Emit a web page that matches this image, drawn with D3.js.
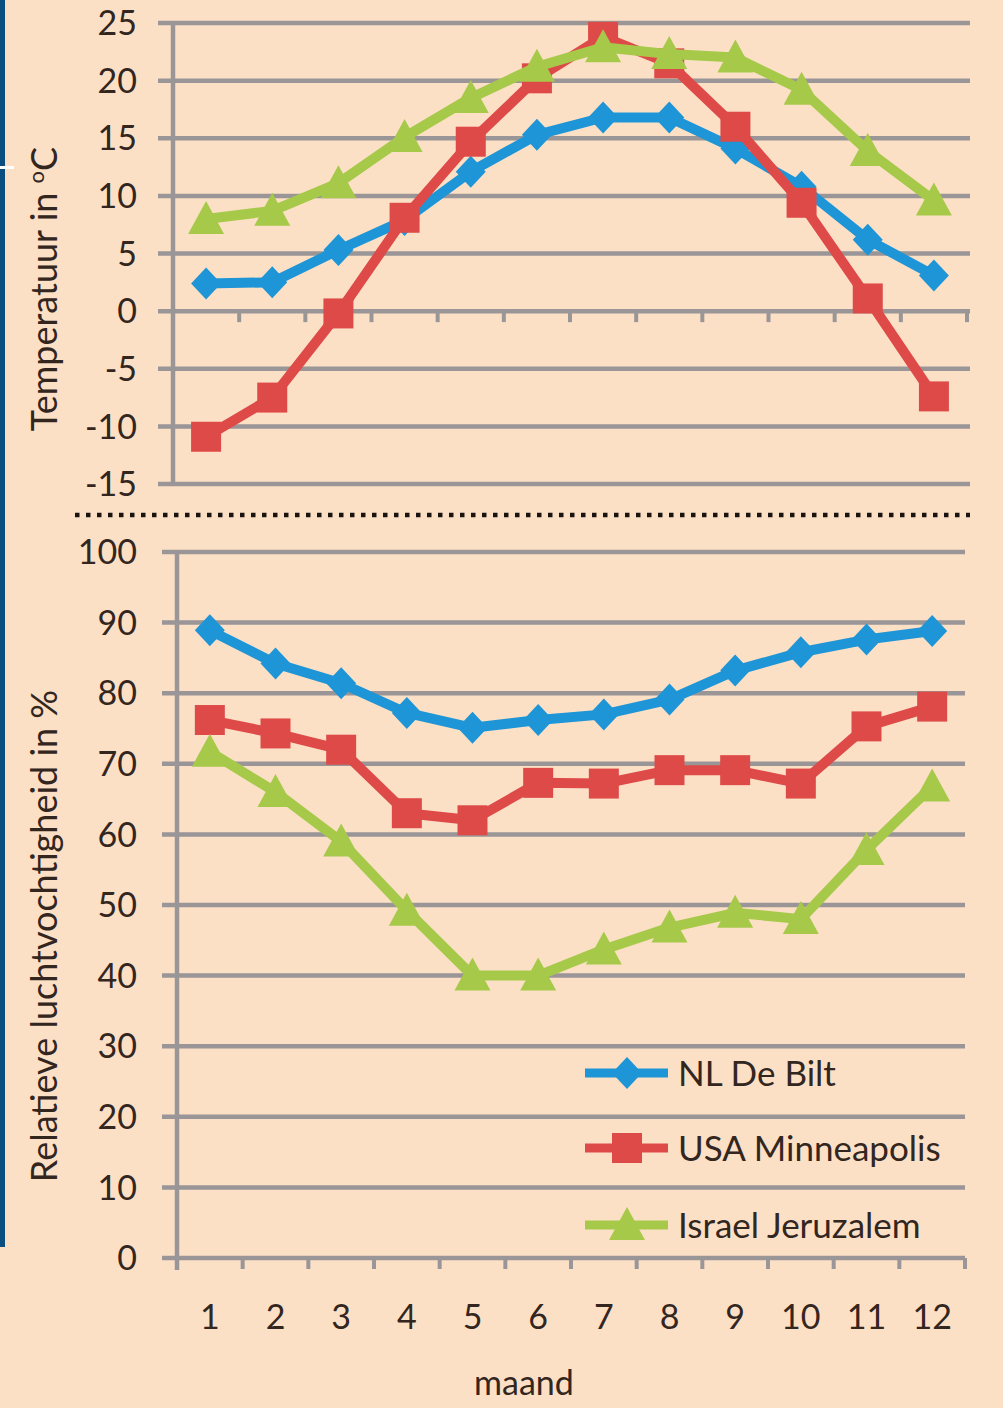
<!DOCTYPE html>
<html>
<head>
<meta charset="utf-8">
<script src="https://cdn.jsdelivr.net/npm/d3@7"></script>
<style>
  body { margin: 0; background: #fce0c6; }
  svg { display: block; }
  text { font-family: Lato, "Open Sans", sans-serif; fill: #33261e; }
</style>
</head>
<body>
<svg id="chart" width="1003" height="1408"></svg>
<script>
"use strict";

// maanden
var months = [1, 2, 3, 4, 5, 6, 7, 8, 9, 10, 11, 12];

// temperatuur in graden C
var tempDeBilt      = [2.4, 2.5, 5.3, 7.9, 12.1, 15.3, 16.8, 16.8, 14.1, 10.8, 6.2, 3.1];
var tempMinneapolis = [-10.9, -7.5, -0.2, 8.1, 14.7, 20.2, 23.8, 21.5, 16.0, 9.4, 1.1, -7.4];
var tempJeruzalem   = [8.0, 8.7, 11.1, 15.1, 18.5, 21.2, 22.9, 22.3, 22.0, 19.2, 13.9, 9.6];

// relatieve luchtvochtigheid in %
var rvDeBilt      = [88.9, 84.2, 81.4, 77.2, 75.1, 76.2, 77.0, 79.1, 83.2, 85.8, 87.6, 88.8];
var rvMinneapolis = [76.2, 74.3, 72.0, 63.0, 62.0, 67.3, 67.2, 69.1, 69.1, 67.2, 75.3, 78.1];
var rvJeruzalem   = [71.7, 66.0, 59.0, 49.2, 40.0, 40.0, 43.7, 46.8, 48.9, 48.0, 57.8, 66.8];

var tempTicks = [-15, -10, -5, 0, 5, 10, 15, 20, 25];
var rvTicks = [0, 10, 20, 30, 40, 50, 60, 70, 80, 90, 100];

var seriesNames = ["NL De Bilt", "USA Minneapolis", "Israel Jeruzalem"];
var seriesColors = ["#1e95d6", "#de4a48", "#a6c94a"];
var seriesMarkers = ["diamond", "square", "triangle"];

var gridColor = "#9a9697";
var svg = d3.select("#chart");

// linkse rand
svg.append("rect").attr("x", 0).attr("y", 0).attr("width", 5).attr("height", 1247)
  .attr("fill", "#0b4f80");
svg.append("rect").attr("x", 0).attr("y", 166).attr("width", 14).attr("height", 3)
  .attr("fill", "#ffffff");

function markerPath(kind) {
  if (kind == "diamond") return "M0,-16L15,0L0,16L-15,0Z";
  if (kind == "square") return "M-15,-15H15V15H-15Z";
  return "M0,-18L18,15L-18,15Z";
}

function panel(cfg) {
  var x = d3.scaleBand().domain(months).range([cfg.left, cfg.right]);
  var y = d3.scaleLinear().domain(cfg.domain).range([cfg.bottom, cfg.top]);
  var g = svg.append("g");

  // rasterlijnen
  g.selectAll("line.grid")
    .data(cfg.ticks)
    .join("line")
    .attr("x1", cfg.left - 15)
    .attr("x2", cfg.gridRight)
    .attr("y1", d => y(d))
    .attr("y2", d => y(d))
    .attr("stroke", gridColor)
    .attr("stroke-width", 4.5);

  // y-as
  g.append("line")
    .attr("x1", cfg.left).attr("x2", cfg.left)
    .attr("y1", y(cfg.domain[1])).attr("y2", cfg.axisTickBottom)
    .attr("stroke", gridColor).attr("stroke-width", 4.5);

  // x-as streepjes
  var bounds = months.map(m => x(m)).slice(1).concat([cfg.right]);
  g.selectAll("line.xtick")
    .data(bounds)
    .join("line")
    .attr("x1", d => d).attr("x2", d => d)
    .attr("y1", y(cfg.xAxisAt))
    .attr("y2", y(cfg.xAxisAt) + 11)
    .attr("stroke", gridColor).attr("stroke-width", 4);

  // y labels
  g.selectAll("text.ylab")
    .data(cfg.ticks)
    .join("text")
    .attr("x", 137)
    .attr("y", d => y(d))
    .attr("dy", "0.36em")
    .attr("text-anchor", "end")
    .style("font-size", "34px")
    .text(d => d);

  // reeksen
  cfg.series.forEach(function(vals, si) {
    var pts = months.map((m, i) => [x(m) + x.bandwidth() / 2, y(vals[i])]);
    g.append("path")
      .attr("d", d3.line()(pts))
      .attr("fill", "none")
      .attr("stroke", seriesColors[si])
      .attr("stroke-width", 10)
      .attr("stroke-linejoin", "round");
    g.selectAll(null)
      .data(pts)
      .join("path")
      .attr("transform", d => "translate(" + d[0] + "," + d[1] + ")")
      .attr("d", markerPath(seriesMarkers[si]))
      .attr("fill", seriesColors[si]);
  });

  return x;
}

panel({
  left: 173, right: 967, gridRight: 970, top: 23, bottom: 484,
  domain: [-15, 25], ticks: tempTicks, xAxisAt: 0, axisTickBottom: 484,
  series: [tempDeBilt, tempMinneapolis, tempJeruzalem]
});

var xBottom = panel({
  left: 177, right: 965, gridRight: 965, top: 552, bottom: 1258,
  domain: [0, 100], ticks: rvTicks, xAxisAt: 0, axisTickBottom: 1270,
  series: [rvDeBilt, rvMinneapolis, rvJeruzalem]
});

// x labels
svg.selectAll("text.xlab")
  .data(months)
  .join("text")
  .attr("x", d => xBottom(d) + xBottom.bandwidth() / 2)
  .attr("y", 1329)
  .attr("text-anchor", "middle")
  .style("font-size", "34px")
  .text(d => d);

svg.append("text")
  .attr("x", 524).attr("y", 1395)
  .attr("text-anchor", "middle")
  .style("font-size", "34px")
  .text("maand");

// as-titels
var t1 = svg.append("text")
  .attr("transform", "translate(57,289) rotate(-90)")
  .attr("text-anchor", "middle")
  .style("font-size", "36px");
t1.append("tspan").text("Temperatuur in ");
t1.append("tspan").attr("dy", -13).style("font-size", "22px").text("o");
t1.append("tspan").attr("dy", 13).text("C");

svg.append("text")
  .attr("transform", "translate(57,936) rotate(-90)")
  .attr("text-anchor", "middle")
  .style("font-size", "36px")
  .text("Relatieve luchtvochtigheid in %");

// stippellijn tussen de grafieken
svg.append("line")
  .attr("x1", 75).attr("x2", 970)
  .attr("y1", 515).attr("y2", 515)
  .attr("stroke", "#1a1410")
  .attr("stroke-width", 4.5)
  .attr("stroke-dasharray", "4.5 6.5");

// legenda
var legendY = [1073, 1148, 1225];
var legend = svg.selectAll("g.legend")
  .data(seriesNames)
  .join("g")
  .attr("transform", (d, i) => "translate(0," + legendY[i] + ")");
legend.append("line")
  .attr("x1", 585).attr("x2", 668)
  .attr("stroke", (d, i) => seriesColors[i])
  .attr("stroke-width", 9);
legend.append("path")
  .attr("transform", "translate(627,0)")
  .attr("d", (d, i) => markerPath(seriesMarkers[i]))
  .attr("fill", (d, i) => seriesColors[i]);
legend.append("text")
  .attr("x", 678)
  .attr("dy", "0.36em")
  .style("font-size", "35px")
  .text(d => d);
</script>
</body>
</html>
